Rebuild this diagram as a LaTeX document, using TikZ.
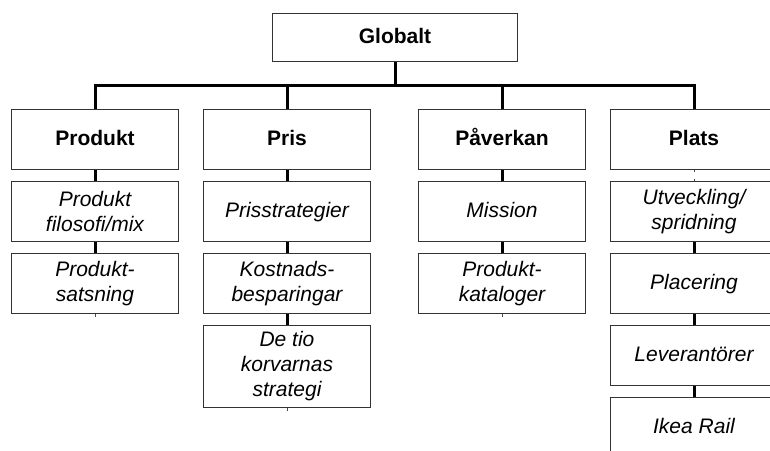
\documentclass[tikz,border=0pt]{standalone}
\usepackage{fontspec}
\setmainfont{Liberation Sans}
\begin{document}
\begin{tikzpicture}[x=1pt,y=-1pt,
  box/.style={draw=black!80, line width=1pt, minimum width=167pt,
    minimum height=60pt, inner sep=0pt, anchor=north west, align=center},
  oneline/.style={text height=15pt, text depth=4pt},
  head/.style={box, oneline, font=\fontsize{21}{25}\selectfont\bfseries},
  item/.style={box, font=\fontsize{21}{25}\selectfont\itshape},
  conn/.style={line width=3pt, black, line join=miter},
  speck/.style={line width=0.8pt, black!70}]
\useasboundingbox (0,0) rectangle (770,450);
\clip (0,0) rectangle (770,450);

% root
\node[head, minimum width=245pt, minimum height=48pt] (g) at (272,13) {Globalt};
\coordinate (bus) at (0,85);

% second level
\node[head] (p1) at (11,109)  {Produkt};
\node[head] (p2) at (203,109) {Pris};
\node[head] (p3) at (418,109) {P\aa verkan};
\node[head] (p4) at (610,109) {Plats};

% Produkt
\node[item] (a1) at (11,181) {Produkt\\filosofi/mix};
\node[item] (a2) at (11,253) {Produkt-\\satsning};

% Pris
\node[item, oneline] (b1) at (203,181) {Prisstrategier};
\node[item] (b2) at (203,253) {Kostnads-\\besparingar};
\node[item, minimum height=82pt] (b3) at (203,325) {De tio\\korvarnas\\strategi};

% Påverkan
\node[item, oneline] (c1) at (418,181) {Mission};
\node[item] (c2) at (418,253) {Produkt-\\kataloger};

% Plats
\node[item] (d1) at (610,181) {Utveckling/\\spridning};
\node[item, oneline] (d2) at (610,253) {Placering};
\node[item, oneline] (d3) at (610,325) {Leverant\"orer};
\node[item, oneline] (d4) at (610,397) {Ikea Rail};

% tree connectors
\draw[conn] (g.south) -- (g.south |- bus);
\draw[conn] (p1.north) -- (p1.north |- bus) -- (p4.north |- bus) -- (p4.north);
\draw[conn] (p2.north) -- (p2.north |- bus);
\draw[conn] (p3.north) -- (p3.north |- bus);

\draw[conn] (p1.south) -- (a1.north);
\draw[conn] (a1.south) -- (a2.north);

\draw[conn] (p2.south) -- (b1.north);
\draw[conn] (b1.south) -- (b2.north);
\draw[conn] (b2.south) -- (b3.north);

\draw[conn] (p3.south) -- (c1.north);
\draw[conn] (c1.south) -- (c2.north);

\draw[conn] (d1.south) -- (d2.north);
\draw[conn] (d2.south) -- (d3.north);
\draw[conn] (d3.south) -- (d4.north);

% short stubs left over at the column ends
\draw[speck] (a2.south) -- ++(0,3);
\draw[speck] (b3.south) -- ++(0,3);
\draw[speck] (c2.south) -- ++(0,3);
\draw[speck] (p4.south) -- ++(0,2);
\draw[speck] (d1.north) -- ++(0,-2);
\end{tikzpicture}
\end{document}
